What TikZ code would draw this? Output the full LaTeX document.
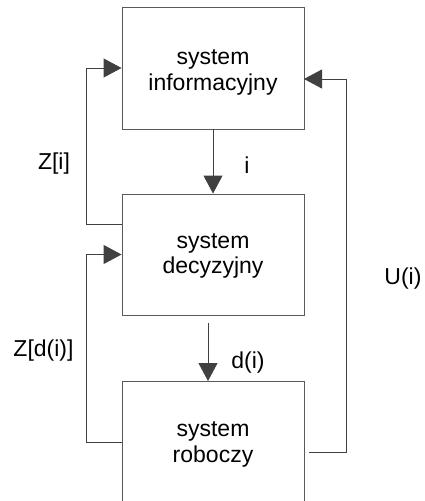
\documentclass[tikz,border=0pt]{standalone}
\usepackage{fontspec}
\setmainfont{Liberation Sans}
\usetikzlibrary{arrows.meta}
\begin{document}
\begin{tikzpicture}[x=1pt,y=-1pt,
  ln/.style={draw=black!65,line width=0.9pt},
  arr/.style={ln,-{Triangle[length=18pt,width=19pt]},draw=black!75},
  boxnode/.style={ln,rectangle,minimum width=182pt,inner sep=0pt},
  txt/.style={anchor=base,inner sep=0pt,font=\fontsize{23}{27}\selectfont}]
\useasboundingbox (0,0) rectangle (424,501);
\clip (0,0) rectangle (424,501);
% boxes
\node[boxnode,minimum height=122pt] (box1) at (213,68) {};
\node[boxnode,minimum height=121pt] (box2) at (213,254.5) {};
\node[boxnode,minimum height=150pt,anchor=north] (box3) at (213,381) {};
% box texts
\node[txt] (t1a) at (213,64) {system};
\node[txt] (t1b) at (213,90) {informacyjny};
\node[txt] (t2a) at (213,248) {system};
\node[txt] (t2b) at (213,273) {decyzyjny};
\node[txt] (t3a) at (213,436) {system};
\node[txt] (t3b) at (213,462) {roboczy};
% helper coordinates
\coordinate (zi0) at (122,224);
\coordinate (zd0) at (122,442);
\coordinate (d0) at (208,323);
\coordinate (u0) at (309,452);
\coordinate (u1) at (304,79);
% connectors
\draw[arr] (box1.south) -- (box2.north);
\draw[arr] (d0) -- (d0 |- box3.north);
\draw[arr] (zi0) -- (86,224) |- (box1.west);
\draw[arr] (zd0) -- (86,442) |- (box2.west);
\draw[arr] (u0) -- (346,452) |- (u1);
% labels
\node[txt] (li) at (247,173) {i};
\node[txt] (ld) at (248,368) {d(i)};
\node[txt] (lzi) at (54,169) {Z[i]};
\node[txt] (lzd) at (43.5,356) {Z[d(i)]};
\node[txt] (lu) at (403,284) {U(i)};
\end{tikzpicture}
\end{document}
